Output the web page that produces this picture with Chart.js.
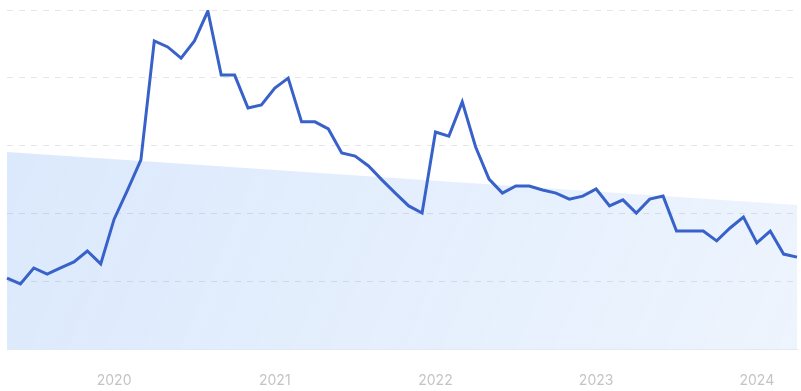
<!DOCTYPE html>
<html>
<head>
<meta charset="utf-8">
<script src="https://cdn.jsdelivr.net/npm/chart.js@4"></script>
<style>
  html, body { margin: 0; padding: 0; background: #fff; }
  #wrap { width: 801px; height: 391px; position: relative; }
</style>
</head>
<body>
<div id="wrap"><canvas id="myChart"></canvas></div>
<script>
// months May 2019 .. Apr 2024
let months = [
    '2019-05', '2019-06', '2019-07', '2019-08', '2019-09', '2019-10', '2019-11', '2019-12',
    '2020-01', '2020-02', '2020-03', '2020-04', '2020-05', '2020-06', '2020-07', '2020-08',
    '2020-09', '2020-10', '2020-11', '2020-12', '2021-01', '2021-02', '2021-03', '2021-04',
    '2021-05', '2021-06', '2021-07', '2021-08', '2021-09', '2021-10', '2021-11', '2021-12',
    '2022-01', '2022-02', '2022-03', '2022-04', '2022-05', '2022-06', '2022-07', '2022-08',
    '2022-09', '2022-10', '2022-11', '2022-12', '2023-01', '2023-02', '2023-03', '2023-04',
    '2023-05', '2023-06', '2023-07', '2023-08', '2023-09', '2023-10', '2023-11', '2023-12',
    '2024-01', '2024-02', '2024-03', '2024-04'
];
let interest = [
    20.9, 19.2, 23.9, 22.1, 23.9, 25.7, 28.9, 25.1,
    38.3, 46.9, 55.8, 90.9, 89.1, 85.8, 90.9, 99.7,
    80.8, 80.8, 71.1, 72.0, 77.0, 79.9, 67.0, 67.0,
    64.9, 57.8, 56.9, 54.0, 49.9, 46.0, 42.2, 40.1,
    64.0, 62.8, 72.9, 59.6, 50.1, 46.0, 48.1, 48.1,
    46.9, 46.0, 44.2, 45.1, 47.2, 42.2, 44.0, 40.1,
    44.2, 45.1, 34.8, 34.8, 34.8, 31.9, 35.7, 38.9,
    31.3, 34.8, 28.0, 27.1
];
let trendStart = 58.1;
let trendEnd = 42.5;

let trendPoints = [
    { x: months[0], y: trendStart },
    { x: months[months.length - 1], y: trendEnd }
];

function trendFill(context) {
    let chart = context.chart;
    let area = chart.chartArea;
    if (!area) return 'rgba(60,135,240,0.16)';
    let g = chart.ctx.createLinearGradient(area.left, area.top, area.right, area.bottom);
    g.addColorStop(0, 'rgba(60,135,240,0.19)');
    g.addColorStop(1, 'rgba(60,135,240,0.09)');
    return g;
}

let ctx = document.getElementById('myChart').getContext('2d');
let myChart = new Chart(ctx, {
    type: 'line',
    data: {
        labels: months,
        datasets: [{
            label: 'Interest',
            data: interest,
            borderColor: '#3862c9',
            borderWidth: 3,
            pointRadius: 0,
            tension: 0,
            fill: false
        }, {
            label: 'Trend',
            data: trendPoints,
            borderWidth: 0,
            borderColor: 'rgba(0,0,0,0)',
            backgroundColor: trendFill,
            pointRadius: 0,
            spanGaps: true,
            fill: 'start'
        }]
    },
    options: {
        responsive: true,
        maintainAspectRatio: false,
        animation: false,
        layout: { padding: { left: 7, right: 4, top: 10, bottom: 2 } },
        plugins: {
            legend: { display: false },
            tooltip: { enabled: false }
        },
        scales: {
            x: {
                offset: false,
                grid: { display: false, drawTicks: false },
                border: { display: true, color: '#e3e9f2', width: 1 },
                ticks: {
                    autoSkip: false,
                    maxRotation: 0,
                    padding: 23,
                    color: '#c4c4c4',
                    font: { family: 'Inter', size: 14 },
                    callback: function (value, index) {
                        let m = months[index];
                        return m.endsWith('-01') ? m.slice(0, 4) : '';
                    }
                },
                afterFit: function (scale) {
                    scale.height = 40;
                    scale.paddingLeft = 0;
                    scale.paddingRight = 0;
                }
            },
            y: {
                min: 0,
                max: 100,
                ticks: { display: false, stepSize: 20 },
                border: { display: false, dash: [6, 6] },
                grid: {
                    drawTicks: false,
                    color: function (c) {
                        return c.tick.value === 0 ? 'rgba(0,0,0,0)' : '#e4e6ea';
                    }
                },
                afterFit: function (scale) {
                    scale.width = 0;
                    scale.paddingTop = 0;
                    scale.paddingBottom = 0;
                }
            }
        }
    }
});
</script>
</body>
</html>
